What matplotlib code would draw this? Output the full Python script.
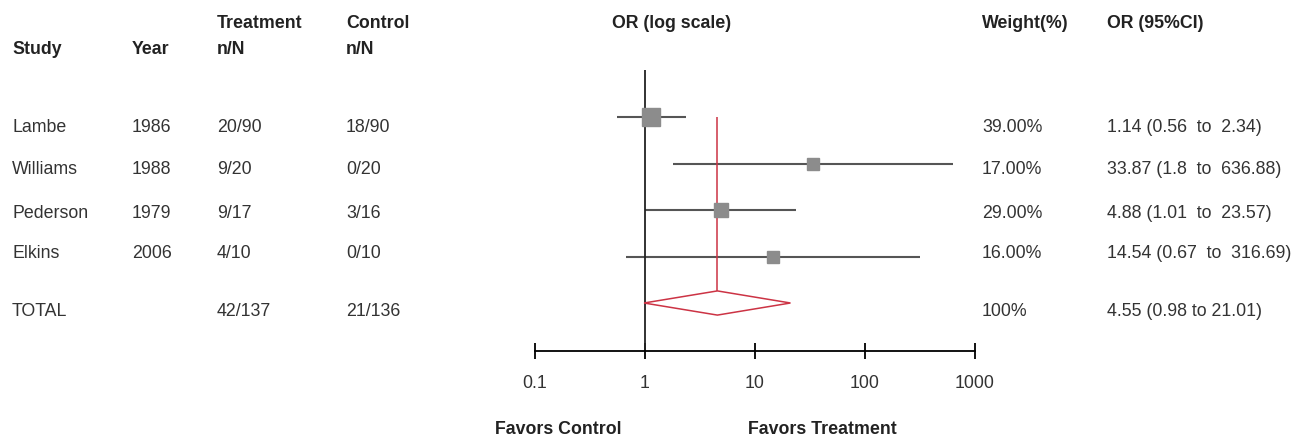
import matplotlib.pyplot as plt
from matplotlib.patches import Polygon
import numpy as np

plt.rcParams['font.family'] = ['Liberation Sans', 'DejaVu Sans']

# data
studies = ['Lambe', 'Williams', 'Pederson', 'Elkins']
years = ['1986', '1988', '1979', '2006']
treat = ['20/90', '9/20', '9/17', '4/10']
ctrl = ['18/90', '0/20', '3/16', '0/10']
odds = [1.14, 33.87, 4.88, 14.54]
lo = [0.56, 1.8, 1.01, 0.67]
hi = [2.34, 636.88, 23.57, 316.69]
weights = [39.0, 17.0, 29.0, 16.0]
ci_text = ['1.14 (0.56  to  2.34)', '33.87 (1.8  to  636.88)',
           '4.88 (1.01  to  23.57)', '14.54 (0.67  to  316.69)']

total_treat = '42/137'
total_ctrl = '21/136'
total_weight = '100%'
total_or, total_lo, total_hi = 4.55, 0.98, 21.01
total_ci = '4.55 (0.98 to 21.01)'

ticks = [0.1, 1, 10, 100, 1000]
tick_labels = ['0.1', '1', '10', '100', '1000']

W, H = 1303, 438
fig = plt.figure(figsize=(W / 100, H / 100), dpi=100)

# text layer in pixel coords
tx = fig.add_axes([0, 0, 1, 1])
tx.set_xlim(0, W)
tx.set_ylim(H, 0)
tx.axis('off')

txt = '#333333'
fs = 12.8
hdr = dict(fontsize=12.8, fontweight='bold', color='#222222', va='center')

tx.text(12, 49, 'Study', **hdr)
tx.text(132, 49, 'Year', **hdr)
tx.text(217, 23, 'Treatment', **hdr)
tx.text(217, 49, 'n/N', **hdr)
tx.text(346, 23, 'Control', **hdr)
tx.text(346, 49, 'n/N', **hdr)
tx.text(672, 23, 'OR (log scale)', ha='center', **hdr)
tx.text(982, 24, 'Weight(%)', **hdr)
tx.text(1107, 24, 'OR (95%CI)', **hdr)

row_y = [127, 169, 213, 254]
for i in range(len(studies)):
    y = row_y[i]
    tx.text(12, y, studies[i], fontsize=fs, color=txt, va='center')
    tx.text(132, y, years[i], fontsize=fs, color=txt, va='center')
    tx.text(217, y, treat[i], fontsize=fs, color=txt, va='center')
    tx.text(346, y, ctrl[i], fontsize=fs, color=txt, va='center')
    tx.text(982, y, '%.2f%%' % weights[i], fontsize=fs, color=txt, va='center')
    tx.text(1107, y, ci_text[i], fontsize=fs, color=txt, va='center')

ty = 312
tx.text(12, ty, 'TOTAL', fontsize=fs, color=txt, va='center')
tx.text(217, ty, total_treat, fontsize=fs, color=txt, va='center')
tx.text(346, ty, total_ctrl, fontsize=fs, color=txt, va='center')
tx.text(982, ty, total_weight, fontsize=fs, color=txt, va='center')
tx.text(1107, ty, total_ci, fontsize=fs, color=txt, va='center')

tx.text(495, 429, 'Favors Control', **hdr)
tx.text(748, 429, 'Favors Treatment', **hdr)

# forest plot
x0, x1, ytop, ybot = 535, 975, 70, 351
ax = fig.add_axes([x0 / W, 1 - ybot / H, (x1 - x0) / W, (ybot - ytop) / H])
ax.patch.set_alpha(0)
ax.set_xscale('log')
ax.set_xlim(0.1, 1000)
step = 46.5
ax.set_ylim((ybot - 117) / step, (ytop - 117) / step)

for s in ['top', 'left', 'right']:
    ax.spines[s].set_visible(False)
ax.spines['bottom'].set_linewidth(1.3)
ax.set_xticks(ticks)
ax.set_xticklabels(tick_labels, fontsize=fs, color=txt)
ax.minorticks_off()
ax.tick_params(axis='x', direction='inout', length=12, width=1.3, pad=11)
ax.set_yticks([])

ax.axvline(1, color='#222222', lw=1.3, zorder=2)

pos = np.arange(len(studies))
ax.hlines(pos, lo, hi, color='#555555', lw=1.5, zorder=1)
ax.vlines(total_or, 0, len(studies) - 0.26, color='#cc3344', lw=1.1, zorder=3)
for i in range(len(studies)):
    ax.plot(odds[i], pos[i], 's', color='#8c8c8c', ms=2.0 * np.sqrt(weights[i]),
            mec='#8c8c8c', zorder=4)

k = len(studies)
dia = Polygon([(total_lo, k), (total_or, k - 0.26), (total_hi, k), (total_or, k + 0.26)],
              closed=True, facecolor='white', edgecolor='#cc3344', lw=1.1, zorder=3)
ax.add_patch(dia)

fig.savefig('out.png', dpi=100)
